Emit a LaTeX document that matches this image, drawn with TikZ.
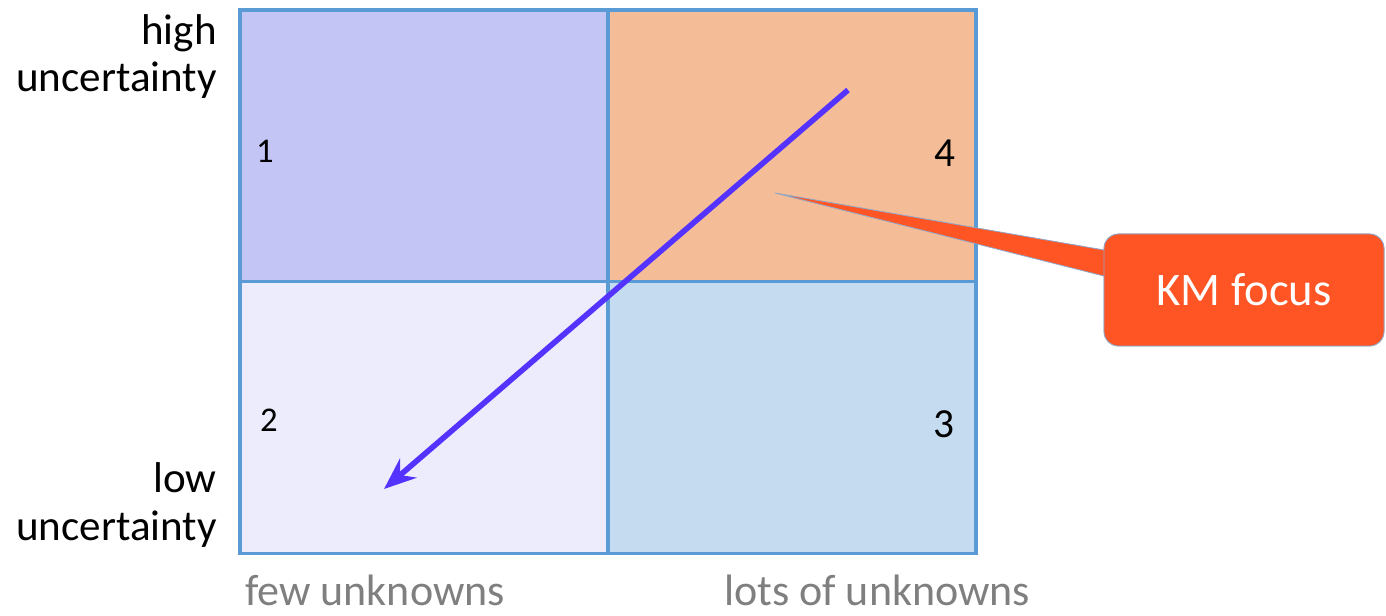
\documentclass[tikz,border=0pt]{standalone}
\usepackage{fontspec}
\setmainfont{Carlito}
\usetikzlibrary{arrows.meta,calc}
\definecolor{gridline}{HTML}{5B9BD5}
\definecolor{cellA}{HTML}{C3C6F5}
\definecolor{cellB}{HTML}{F4BD98}
\definecolor{cellC}{HTML}{EDECFC}
\definecolor{cellD}{HTML}{C5DBEF}
\definecolor{arrowcol}{HTML}{5533FF}
\definecolor{kmred}{HTML}{FF5424}
\definecolor{kmedge}{HTML}{8FA8C8}
\definecolor{axisgray}{HTML}{7F7F7F}
\tikzset{
  cell/.style={draw=gridline, line width=2.6pt, minimum width=276pt, minimum height=204pt, inner sep=0pt, outer sep=0pt},
  axislbl/.style={font=\fontsize{32.3}{36}\selectfont, text=black, inner sep=0pt},
  bottomlbl/.style={font=\fontsize{33}{38}\selectfont, text=axisgray, inner sep=0pt},
  smallnum/.style={font=\fontsize{26}{30}\selectfont, inner sep=0pt},
  bignum/.style={font=\fontsize{31}{34}\selectfont, inner sep=0pt},
  callout/.style={fill=kmred, draw=kmedge, line width=0.6pt, rounded corners=11pt, minimum width=210pt, minimum height=84pt, text=white, font=\fontsize{35}{40}\selectfont},
  bigarrow/.style={draw=arrowcol, line width=4.2pt, -{Stealth[length=24pt, width=19pt, inset=8pt]}}
}
\begin{document}
\begin{tikzpicture}[x=0.75pt, y=-0.75pt]
\useasboundingbox (0,0) rectangle (1386,616);
% cells
\node[cell, fill=cellA] (q1) at (424,146) {};
\node[cell, fill=cellB] (q4) at (792,146) {};
\node[cell, fill=cellC] (q2) at (424,417.5) {};
\node[cell, fill=cellD] (q3) at (792,417.5) {};
% numbers
\node[smallnum] (n1) at (265,151) {1};
\node[bignum] (n4) at (945,153) {4};
\node[smallnum] (n2) at (269,420) {2};
\node[bignum] (n3) at (944,424) {3};
% left labels
\node[axislbl, anchor=base east] (hi1) at (217,45) {high};
\node[axislbl, anchor=base east] (hi2) at (217,92) {uncertainty};
\node[axislbl, anchor=base east] (lo1) at (217,493) {low};
\node[axislbl, anchor=base east] (lo2) at (217,541) {uncertainty};
% bottom labels
\node[bottomlbl, anchor=base west] (few) at (245,605) {few unknowns};
\node[bottomlbl, anchor=base west] (lots) at (724,605) {lots of unknowns};
% arrow
\coordinate (astart) at (848,90);
\coordinate (aend) at (384,489);
\draw[bigarrow] (astart) -- (aend);
% callout
\coordinate (kmtip) at (775,193);
\node[callout] (km) at (1244,290) {KM focus};
\fill[kmred, draw=kmedge, line width=0.6pt] (kmtip) -- ($(km.west)+(12,-38)$) -- ($(km.west)+(12,-11)$) -- cycle;
\node[callout] at (km.center) {KM focus};
\end{tikzpicture}
\end{document}
